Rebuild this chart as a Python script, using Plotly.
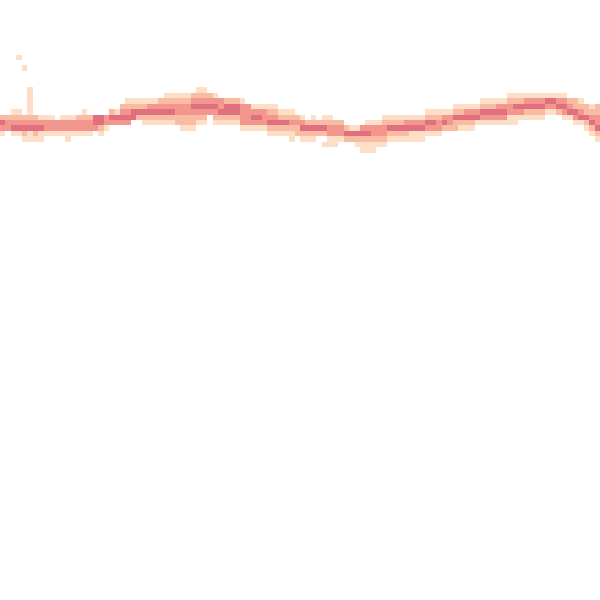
import plotly.graph_objects as go

# Grid: 110 x 110 cells; density level per cell (0 = empty).
N_COLS = 110
N_ROWS = 110

# row index (from top) -> six segments: cols 0-19, 20-39, 40-59, 60-79, 80-99, 100-109
ROW_LEVELS = {
    10: ["00010000000000000000", "", "", "", "", ""],
    12: ["00001000000000000000", "", "", "", "", ""],
    16: ["00000100000000000000", "00000000000000001100", "", "", "", ""],
    17: ["00000100000000000000", "00000000001111122221", "", "", "00000000000001111111", "1111000000"],
    18: ["00000100000000000000", "00011111122222233333", "32221000000000000000", "", "00000000111112223333", "4433221000"],
    19: ["00000100000000000000", "00222223333333344444", "34443311111000000000", "", "00011111222333444444", "3344322212"],
    20: ["00110100000000010000", "21334444444433333333", "44443333322111000000", "00000000000000000011", "11122333444443332222", "1123443222"],
    21: ["22222221110111222443", "44444222222222222202", "22223344333222210101", "10000000001111111122", "23344444333331111111", "0001134433"],
    22: ["43333333333333333443", "33330011111122221101", "11113333344443332222", "22200001112222333344", "34322221111111100000", "0000011243"],
    23: ["33444444333333333321", "00000000000001110000", "00001111122222244444", "33321133333444444433", "32221110000000000000", "0000000124"],
    24: ["10112121111111111010", "", "00000000011111222222", "33344444333222211111", "10000000000000000000", "0000000012"],
    25: ["00001111000010000000", "", "00000000000001011100", "11122222222111111100", "", "0000000001"],
    26: ["", "", "00000000000000000001", "11000111111000000000", "", ""],
    27: ["", "", "", "00000011100000000000", "", ""],
}
SEG_WIDTHS = [20, 20, 20, 20, 20, 10]

LEVEL_COLORS = ["rgb(253,223,199)", "rgb(249,188,163)", "rgb(242,150,142)", "rgb(224,111,128)"]

z = [[None] * N_COLS for _ in range(N_ROWS)]
for r, segs in ROW_LEVELS.items():
    s = "".join(seg.ljust(w, "0")[:w] for seg, w in zip(segs, SEG_WIDTHS))
    for c, ch in enumerate(s):
        v = int(ch)
        if v > 0:
            z[r][c] = v

cs = []
n = len(LEVEL_COLORS)
for i, col in enumerate(LEVEL_COLORS):
    cs.append([i / n, col])
    cs.append([(i + 1) / n, col])

fig = go.Figure(go.Heatmap(
    z=z,
    x=list(range(N_COLS)),
    y=list(range(N_ROWS)),
    colorscale=cs,
    zmin=0.5,
    zmax=4.5,
    showscale=False,
    hoverinfo="skip",
))
fig.update_layout(
    width=600, height=600,
    margin=dict(l=0, r=0, t=0, b=0),
    paper_bgcolor="white", plot_bgcolor="white",
    xaxis=dict(visible=False, range=[-0.5, N_COLS - 0.5]),
    yaxis=dict(visible=False, range=[N_ROWS - 0.5, -0.5]),
)
fig.write_html(
    "out.html",
    config={"displayModeBar": False},
    post_script="document.body.style.margin='0px';document.body.style.overflow='hidden';",
)
